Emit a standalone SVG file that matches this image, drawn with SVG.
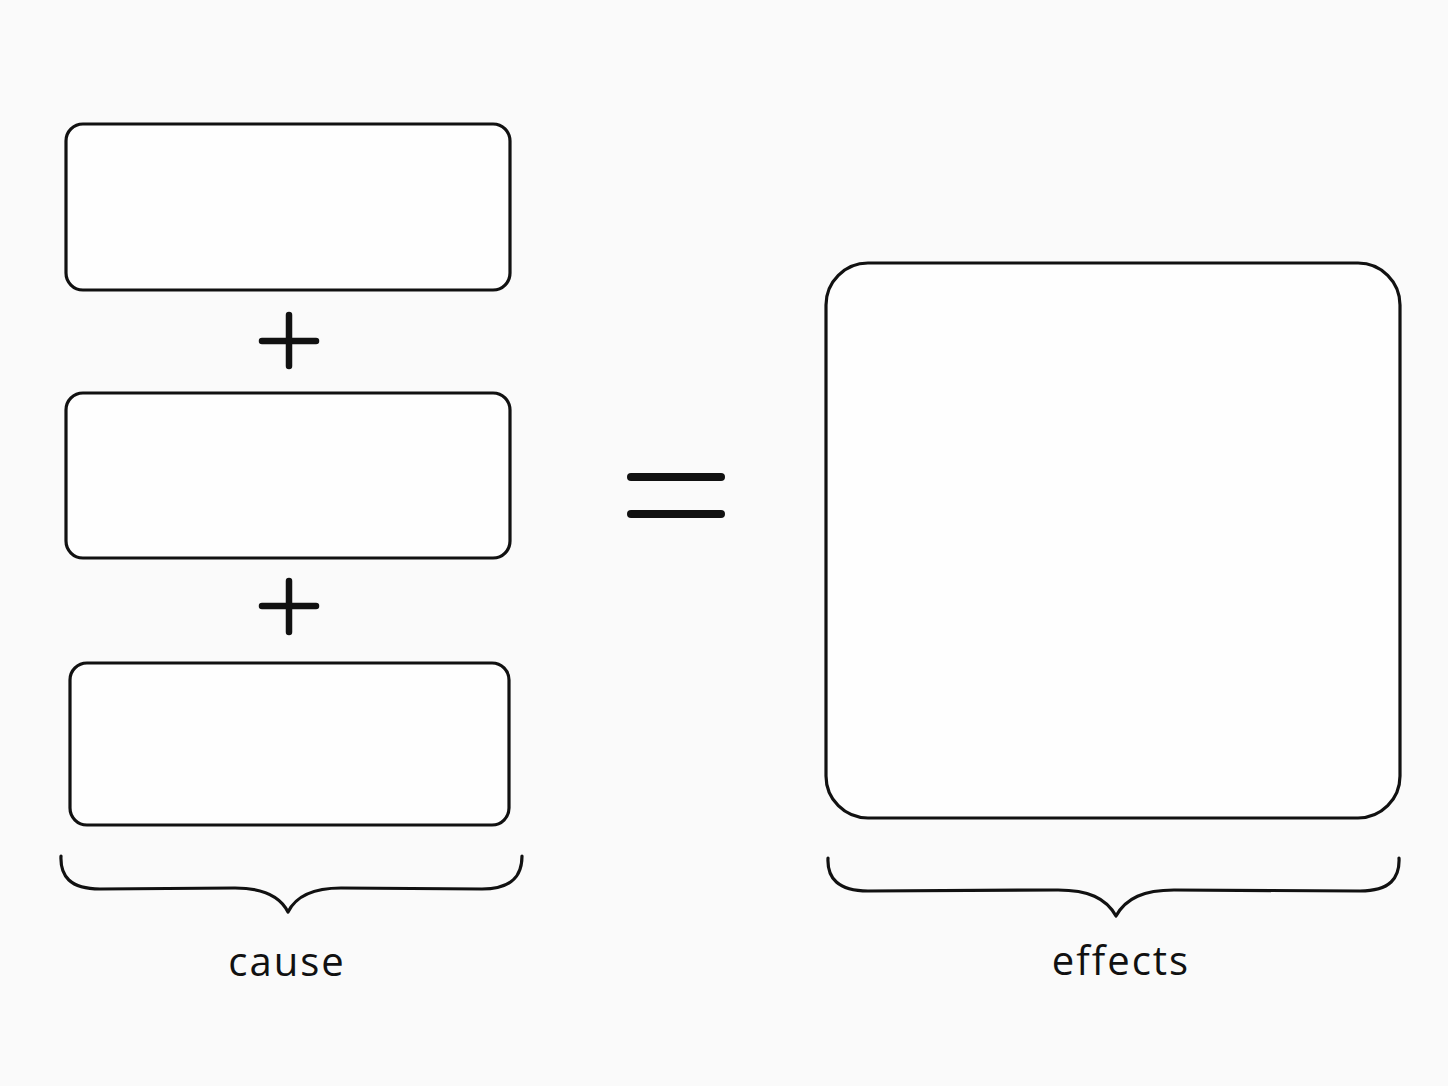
<svg xmlns="http://www.w3.org/2000/svg" width="1448" height="1086" viewBox="0 0 1448 1086">
<style>
.box{fill:#fefefe;stroke:#111;stroke-width:3.2}
.brace{fill:none;stroke:#111;stroke-width:3.2;stroke-linecap:round;stroke-linejoin:round}
.op{stroke:#111;stroke-width:6.5;stroke-linecap:round}
.eq{stroke:#111;stroke-width:8;stroke-linecap:round}
.lbl{font-family:"Open Sans","Noto Sans",sans-serif;font-size:40px;fill:#111;text-anchor:middle;letter-spacing:2px}
</style>
<rect width="1448" height="1086" fill="#fafafa"/>
<g id="cause-box-1"><rect class="box" x="66" y="124" width="444" height="166" rx="17"/></g>
<g id="cause-box-2"><rect class="box" x="66" y="393" width="444" height="165" rx="17"/></g>
<g id="cause-box-3"><rect class="box" x="70" y="663" width="439" height="162" rx="17"/></g>
<g id="effects-box"><rect class="box" x="826" y="263" width="574" height="555" rx="42"/></g>
<g id="plus-1"><line class="op" x1="262" y1="341" x2="316" y2="341"/><line class="op" x1="289" y1="315" x2="289" y2="366"/></g>
<g id="plus-2"><line class="op" x1="262" y1="606" x2="316" y2="606"/><line class="op" x1="289" y1="581" x2="289" y2="632"/></g>
<g id="equals"><line class="eq" x1="631" y1="477" x2="721" y2="477"/><line class="eq" x1="631" y1="514" x2="721" y2="514"/></g>
<g id="connectors">
<path class="brace" d="M61 856 C60 876 70 889 100 889 L235 888 C262 888 280 896 288 912 C296 896 314 888 341 888 L482 889 C512 889 522 876 522 856"/>
<path class="brace" d="M828 858 C827 878 838 891 868 891 L1058 890 C1088 890 1106 898 1116 916 C1126 898 1144 890 1174 890 L1360 891 C1390 891 1400 878 1399 858"/>
</g>
<g id="label-cause"><text class="lbl" x="287" y="976">cause</text></g>
<g id="label-effects"><text class="lbl" x="1121" y="975">effects</text></g>
</svg>
